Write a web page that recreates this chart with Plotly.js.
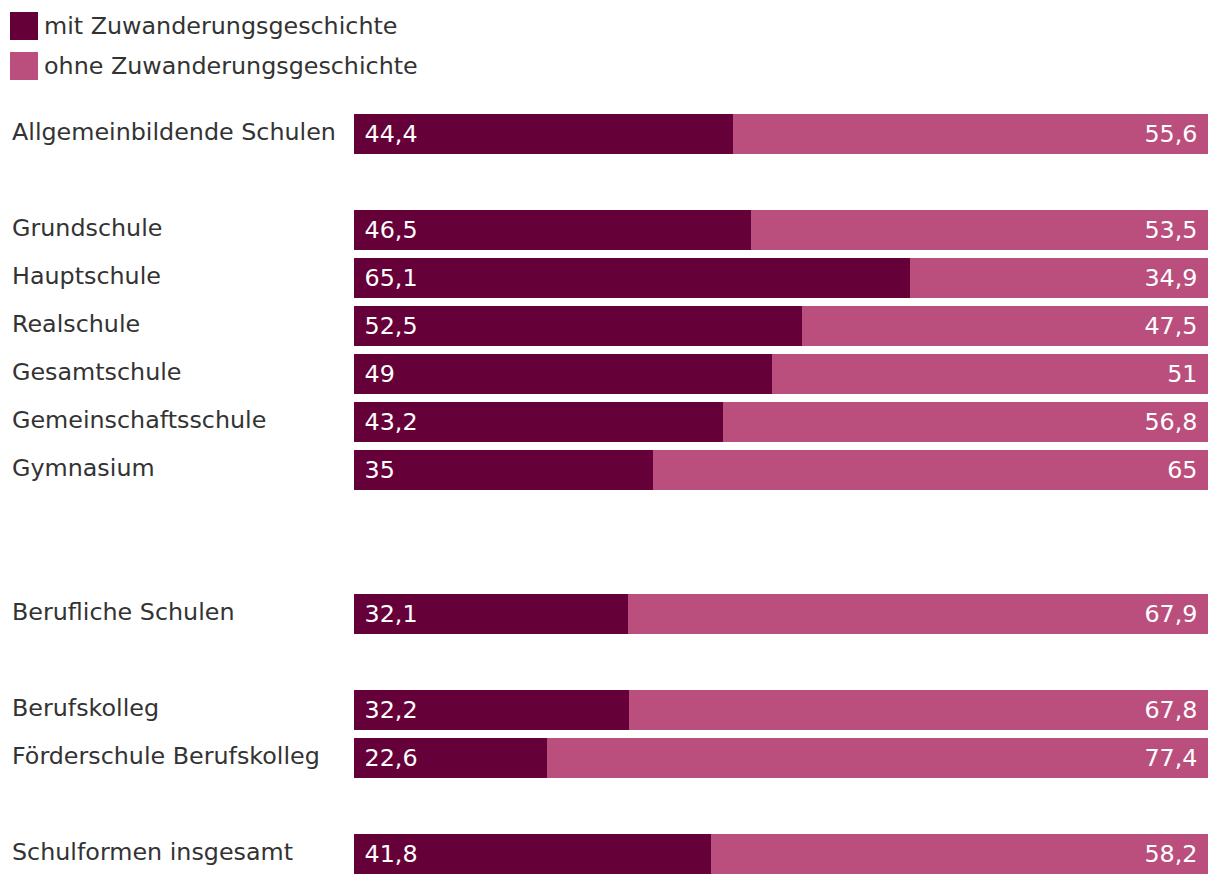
<!DOCTYPE html>
<html>
<head>
<meta charset="utf-8">
<script src="https://cdn.plot.ly/plotly-3.0.1.min.js"></script>
<style>body{margin:0;padding:0;background:#fff;}#chart{width:1220px;height:884px;}</style>
</head>
<body>
<div id="chart"></div>
<script>
// Categories (placeholders "_n" are empty spacer rows)
const categories = [
  "Allgemeinbildende Schulen", "_1",
  "Grundschule", "Hauptschule", "Realschule", "Gesamtschule", "Gemeinschaftsschule", "Gymnasium",
  "_2", "_3",
  "Berufliche Schulen", "_4",
  "Berufskolleg", "Förderschule Berufskolleg", "_5",
  "Schulformen insgesamt"
];
const mitValues = [44.4, null, 46.5, 65.1, 52.5, 49, 43.2, 35, null, null, 32.1, null, 32.2, 22.6, null, 41.8];
const ohneValues = [55.6, null, 53.5, 34.9, 47.5, 51, 56.8, 65, null, null, 67.9, null, 67.8, 77.4, null, 58.2];
const seriesNames = ["mit Zuwanderungsgeschichte", "ohne Zuwanderungsgeschichte"];
const seriesColors = ["#660038", "#BA4F7E"];

const fmt = v => v === null ? "" : String(v).replace(".", ",");
const NB = "\u00a0";
const FONT = "DejaVu Sans, Verdana, sans-serif";
const TXT = "#333333";
const FS = 23.8;

const traces = [
  {
    type: "bar", orientation: "h", name: seriesNames[0],
    y: categories, x: mitValues,
    marker: {color: seriesColors[0]},
    text: mitValues.map(v => v === null ? "" : NB + fmt(v)),
    textposition: "inside", insidetextanchor: "start",
    textfont: {color: "#ffffff", size: FS, family: FONT},
    hoverinfo: "skip", cliponaxis: false
  },
  {
    type: "bar", orientation: "h", name: seriesNames[1],
    y: categories, x: ohneValues,
    marker: {color: seriesColors[1]},
    text: ohneValues.map(v => v === null ? "" : fmt(v) + NB),
    textposition: "inside", insidetextanchor: "end",
    textfont: {color: "#ffffff", size: FS, family: FONT},
    hoverinfo: "skip", cliponaxis: false
  }
];

const plotLeft = 354, plotRight = 1208, plotTop = 110, plotBottom = 878;
const pw = plotRight - plotLeft, ph = plotBottom - plotTop;
const px = x => (x - plotLeft) / pw;
const py = y => (plotBottom - y) / ph;

const annotations = categories.filter(c => !c.startsWith("_")).map(c => ({
  xref: "paper", yref: "y", x: px(10), y: c, text: c, yshift: 2,
  xanchor: "left", yanchor: "middle", showarrow: false,
  font: {family: FONT, size: FS, color: TXT}
}));

const shapes = [];
seriesNames.forEach((n, i) => {
  const top = 12 + i * 40;
  shapes.push({type: "rect", xref: "paper", yref: "paper",
    x0: px(10), x1: px(38), y0: py(top + 28), y1: py(top),
    fillcolor: seriesColors[i], line: {width: 0}});
  annotations.push({xref: "paper", yref: "paper", x: px(42), y: py(top + 14),
    text: n, xanchor: "left", yanchor: "middle", showarrow: false,
    font: {family: FONT, size: FS, color: TXT}});
});

const layout = {
  width: 1220, height: 884,
  margin: {l: plotLeft, r: 1220 - plotRight, t: plotTop, b: 884 - plotBottom, pad: 0},
  barmode: "stack", bargap: 8 / 48,
  showlegend: false,
  paper_bgcolor: "#ffffff", plot_bgcolor: "#ffffff",
  font: {family: FONT, size: FS, color: TXT},
  xaxis: {range: [0, 100], showgrid: false, zeroline: false, showticklabels: false, showline: false, fixedrange: true},
  yaxis: {type: "category", categoryorder: "array", categoryarray: categories, autorange: "reversed",
    showgrid: false, zeroline: false, showticklabels: false, showline: false, fixedrange: true},
  annotations: annotations, shapes: shapes,
  uniformtext: {mode: false}
};

Plotly.newPlot("chart", traces, layout, {displayModeBar: false, staticPlot: true});
</script>
</body>
</html>
